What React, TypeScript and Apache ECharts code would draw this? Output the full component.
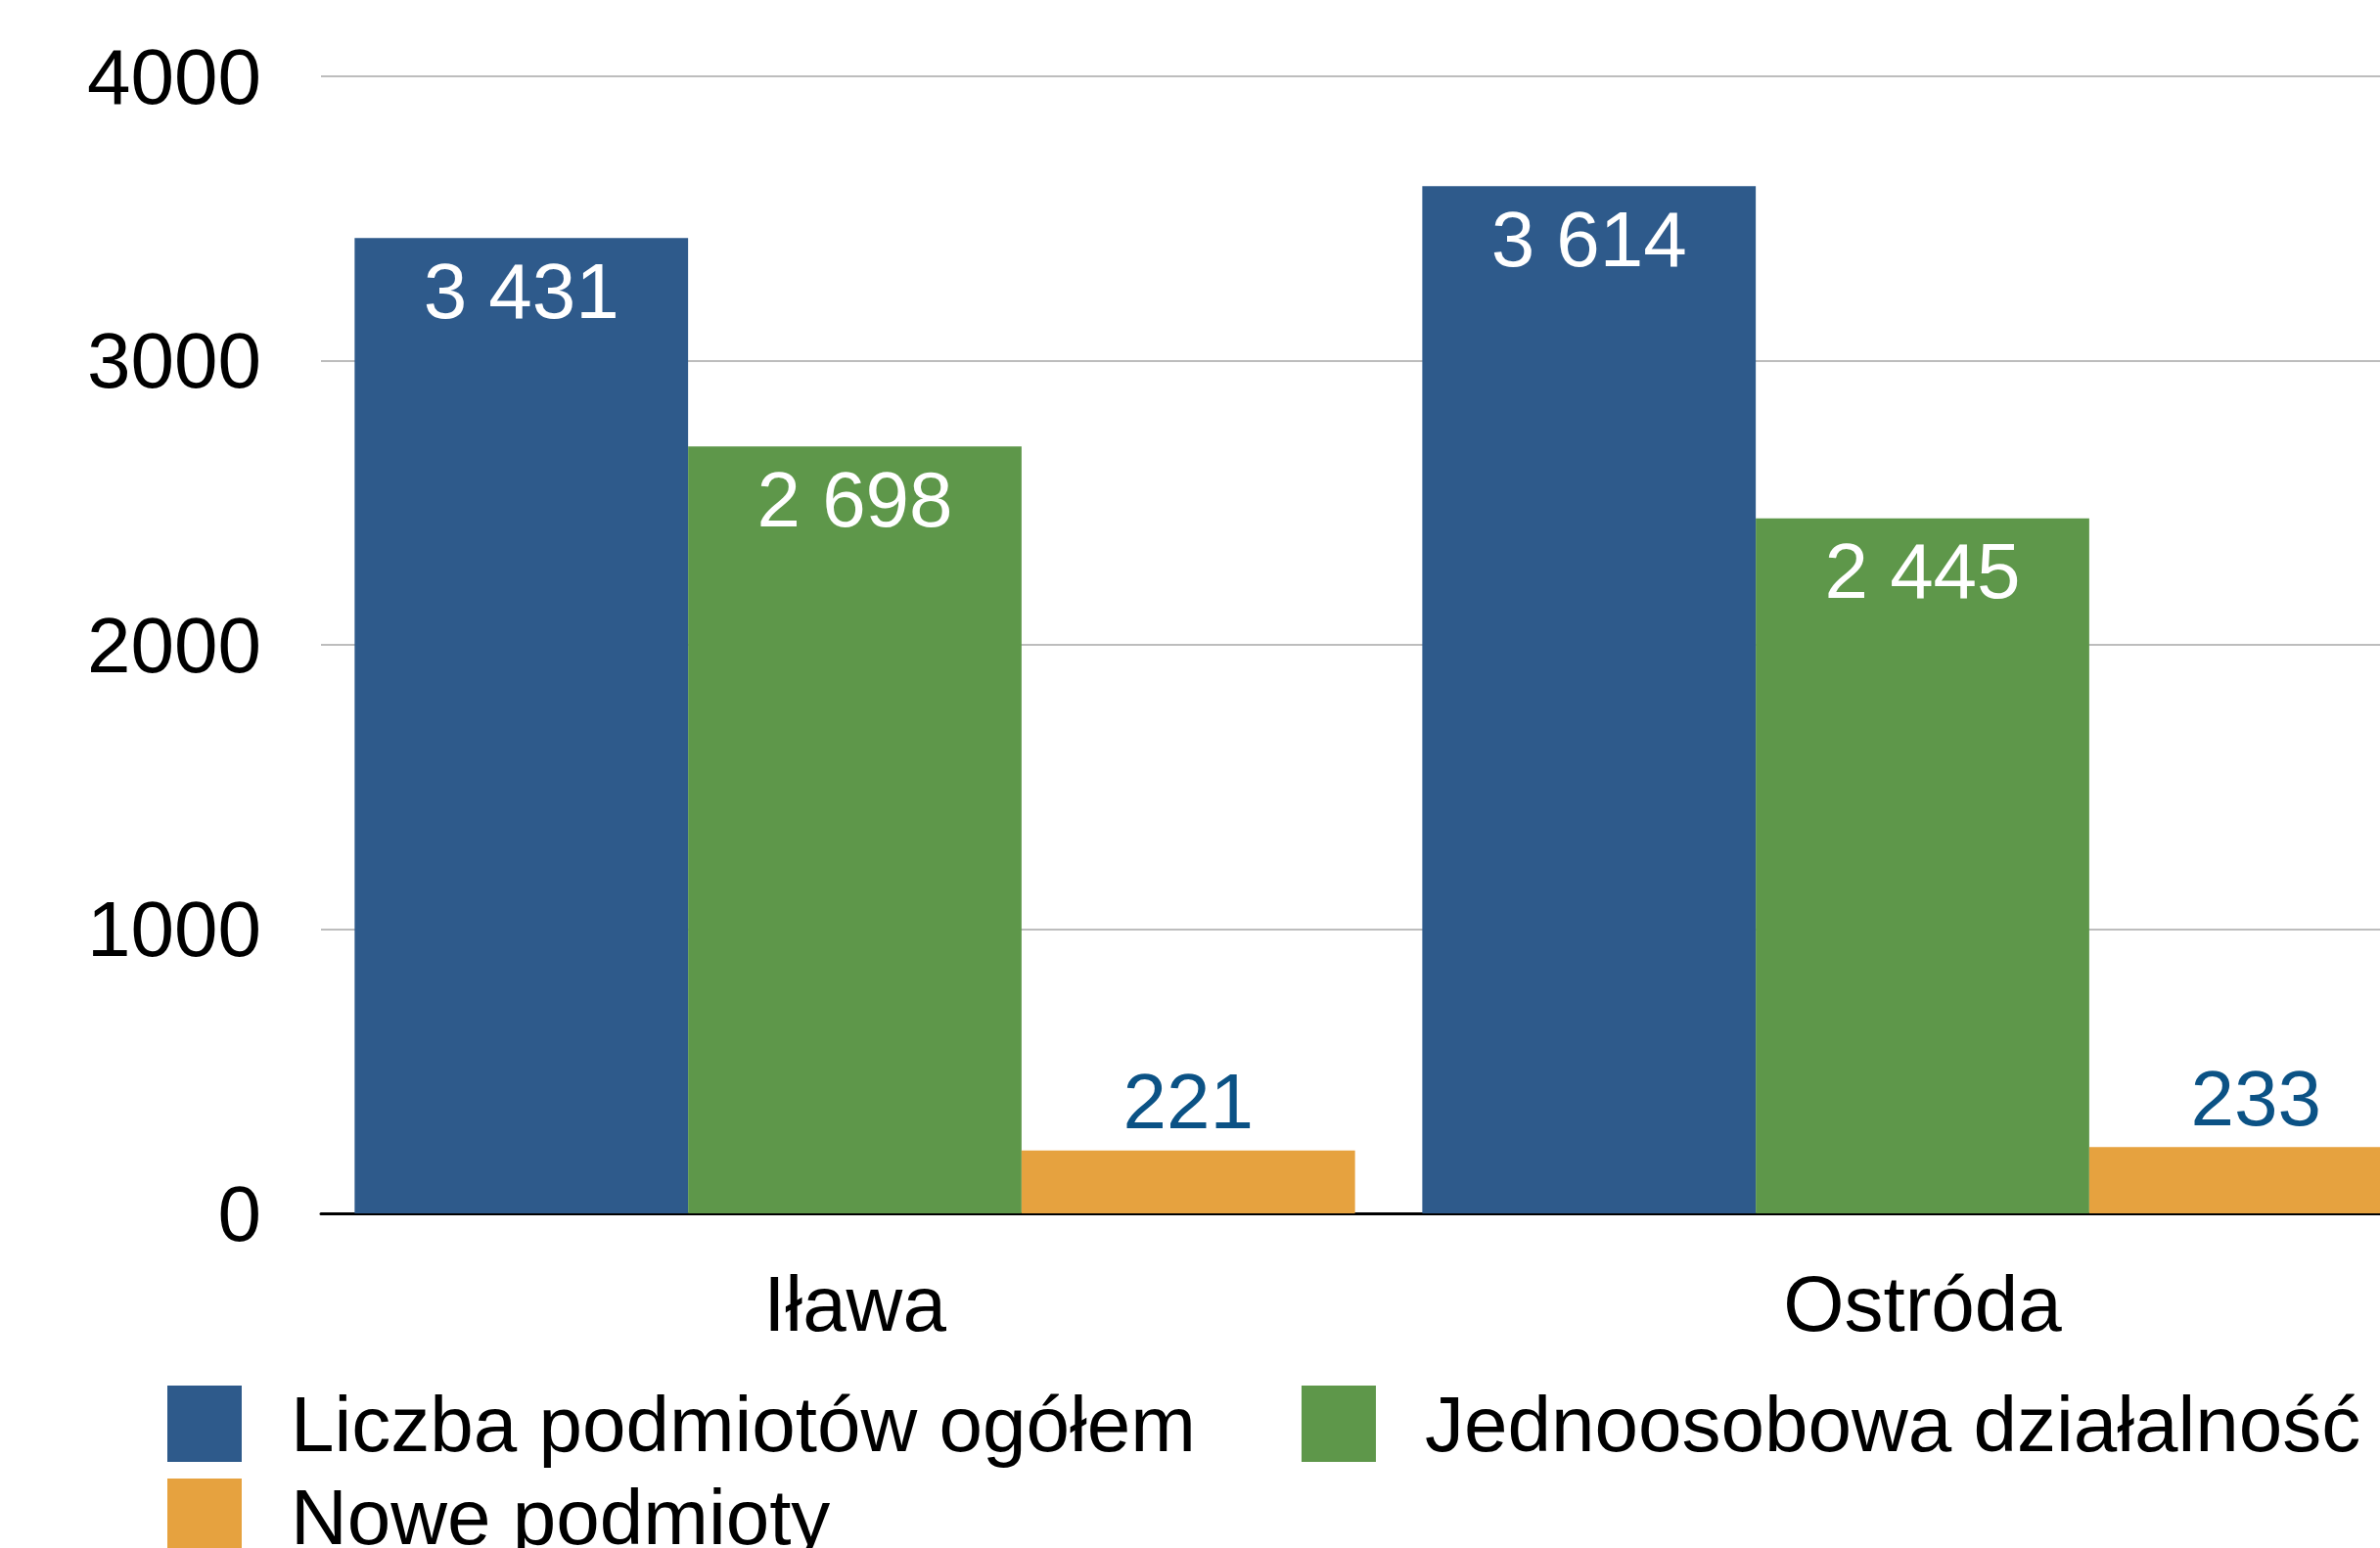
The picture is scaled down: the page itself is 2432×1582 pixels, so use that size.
import React, { useEffect, useRef } from "react";
import * as echarts from "echarts";

const categories = ["Iława", "Ostróda"];
const seriesNames = ["Liczba podmiotów ogółem", "Jednoosobowa działalność", "Nowe podmioty"];
const totalValues = [3431, 3614];
const soleValues = [2698, 2445];
const newValues = [221, 233];
const yTicks = [0, 1000, 2000, 3000, 4000];

const FONT = "'Liberation Sans', Arial, Helvetica, sans-serif";
const FS = 80;

const fmt = (v: number) => String(v).replace(/\B(?=(\d{3})+(?!\d))/g, " ");

export default function App() {
  const ref = useRef<HTMLDivElement>(null);
  useEffect(() => {
    if (!ref.current) return;
    const chart = echarts.init(ref.current, undefined, { renderer: "svg" });
    const insideLabel = {
      show: true,
      position: "insideTop",
      distance: 14,
      color: "#ffffff",
      fontSize: FS,
      lineHeight: FS,
      fontFamily: FONT,
      formatter: (p: any) => fmt(p.value),
    };
    chart.setOption({
      animation: false,
      backgroundColor: "#ffffff",
      textStyle: { fontFamily: FONT },
      grid: { left: 328, top: 78, width: 2182, height: 1162, containLabel: false },
      legend: {
        left: 171,
        top: 1415,
        width: 2400,
        padding: 0,
        itemGap: 15,
        itemWidth: 76,
        itemHeight: 78,
        icon: "rect",
        orient: "horizontal",
        textStyle: {
          fontSize: FS,
          lineHeight: 78,
          fontFamily: FONT,
          color: "#000000",
          padding: [0, 93, 0, 45],
        },
        data: seriesNames,
      },
      xAxis: {
        type: "category",
        data: categories,
        axisTick: { show: false },
        axisLine: { show: true, lineStyle: { color: "#000000", width: 3 } },
        axisLabel: { fontSize: FS, fontFamily: FONT, color: "#000000", margin: 52 },
      },
      yAxis: {
        type: "value",
        min: yTicks[0],
        max: yTicks[yTicks.length - 1],
        interval: 1000,
        axisLine: { show: false },
        axisTick: { show: false },
        splitLine: { show: true, lineStyle: { color: "#BDBDBD", width: 2 } },
        axisLabel: {
          fontSize: FS,
          fontFamily: FONT,
          color: "#000000",
          margin: 61,
          formatter: (v: number) => String(v),
        },
      },
      series: [
        {
          name: seriesNames[0],
          type: "bar",
          data: totalValues,
          barGap: "0%",
          barCategoryGap: "6.3%",
          itemStyle: { color: "#2E5A8B" },
          label: insideLabel,
        },
        {
          name: seriesNames[1],
          type: "bar",
          data: soleValues,
          barGap: "0%",
          barCategoryGap: "6.3%",
          itemStyle: { color: "#5E974A" },
          label: insideLabel,
        },
        {
          name: seriesNames[2],
          type: "bar",
          data: newValues,
          barGap: "0%",
          barCategoryGap: "6.3%",
          itemStyle: { color: "#E6A23F" },
          label: {
            show: true,
            position: "top",
            distance: 10,
            color: "#0B5285",
            fontSize: FS,
            lineHeight: FS,
            fontFamily: FONT,
            formatter: (p: any) => fmt(p.value),
          },
        },
      ],
    });
    return () => chart.dispose();
  }, []);
  return (
    <div
      style={{
        position: "absolute",
        left: 0,
        top: 0,
        width: 2432,
        height: 1582,
        overflow: "hidden",
        background: "#fff",
      }}
    >
      <div ref={ref} style={{ width: 2520, height: 1582 }} />
    </div>
  );
}
